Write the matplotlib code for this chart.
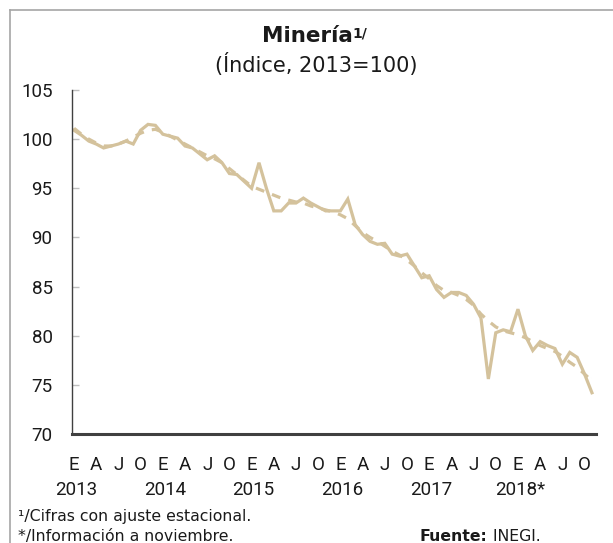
import matplotlib.pyplot as plt
from matplotlib.lines import Line2D

plt.rcParams["font.family"] = ["Roboto", "DejaVu Sans"]

# Indice de mineria, enero 2013 - noviembre 2018 (serie desestacionalizada y tendencia)
serie = [100.9, 100.4, 99.8, 99.5, 99.1, 99.3, 99.5, 99.8, 99.5, 100.9, 101.5, 101.4,
         100.5, 100.3, 100.1, 99.3, 99.1, 98.5, 97.9, 98.3, 97.6, 96.5, 96.4, 95.7,
         95.0, 97.6, 95.0, 92.7, 92.7, 93.5, 93.5, 94.0, 93.5, 93.1, 92.7, 92.7,
         92.7, 93.9, 91.3, 90.3, 89.6, 89.3, 89.4, 88.3, 88.1, 88.3, 87.1, 85.9,
         86.1, 84.7, 83.9, 84.4, 84.4, 84.1, 83.2, 81.8, 75.6, 80.3, 80.6, 80.4,
         82.7, 80.0, 78.5, 79.4, 79.0, 78.7, 77.1, 78.3, 77.8, 76.1, 74.2]
tendencia = [101.1, 100.5, 100.0, 99.6, 99.3, 99.3, 99.5, 99.8, 100.2, 100.6, 100.9, 101.0,
             100.7, 100.3, 99.9, 99.5, 99.1, 98.7, 98.3, 98.0, 97.6, 97.0, 96.4, 95.8,
             95.2, 94.9, 94.6, 94.3, 94.0, 93.8, 93.6, 93.5, 93.2, 93.0, 92.8, 92.6,
             92.3, 91.9, 91.2, 90.5, 90.0, 89.6, 89.1, 88.6, 88.2, 87.7, 87.1, 86.4,
             85.8, 85.1, 84.6, 84.4, 84.1, 83.7, 83.1, 82.2, 81.5, 80.9, 80.5, 80.3,
             80.1, 79.8, 79.4, 79.0, 78.7, 78.4, 77.9, 77.3, 76.8, 76.1, 75.4]
meses = list(range(len(serie)))
letras = ["E", "A", "J", "O"]
anios = ["2013", "2014", "2015", "2016", "2017", "2018*"]
yticks = [70, 75, 80, 85, 90, 95, 100, 105]

color = "#D4C29C"
gris = "#404040"
texto = "#1a1a1a"
ancha = "DejaVu Sans"  # fuente mas ancha para titulo y notas

fig = plt.figure(figsize=(6.13, 5.43), dpi=100)
ax = fig.add_axes([0.1175, 0.2007, 0.8548, 0.6336])

ax.plot(meses, serie, color=color, linewidth=2.3, solid_joinstyle="miter")
ax.plot(meses, tendencia, color=color, linewidth=2.3, dashes=(2.8, 2.6))

ax.set_ylim(70, 105)
ax.set_xlim(-0.27, 70.55)
ax.set_yticks(yticks)
ax.tick_params(axis="y", direction="in", length=5, width=1, color="#BFBFBF",
               labelsize=13.5, pad=14, labelcolor=texto)

# etiquetas de meses (cada trimestre) y de años
pos_letras = meses[::3]
ax.set_xticks(pos_letras)
ax.set_xticklabels([letras[i % 4] for i in range(len(pos_letras))])
ax.tick_params(axis="x", length=0, labelsize=13.5, pad=15.5, labelcolor=texto)
for i, a in enumerate(anios):
    ax.annotate(a, xy=(i * 12, 0), xycoords=("data", "axes fraction"),
                xytext=(1.5, -40), textcoords="offset points",
                ha="center", va="center", fontsize=13.5, color=texto)

for s in ["top", "right"]:
    ax.spines[s].set_visible(False)
ax.spines["left"].set_color(gris)
ax.spines["left"].set_linewidth(1.0)
ax.spines["bottom"].set_color(gris)
ax.spines["bottom"].set_linewidth(2.2)

# titulo
t = fig.text(0.5008, 0.9346, "Minería", ha="center", va="center", family=ancha,
             fontsize=15.5, fontweight="bold", color=texto)
ax.annotate("1/", xy=(1, 1), xycoords=t, xytext=(0, -1), textcoords="offset points",
            ha="left", va="top", fontsize=10, fontweight="bold", family=ancha, color=texto)
fig.text(0.5155, 0.881, "(Índice, 2013=100)", ha="center", va="center", family=ancha,
         fontsize=15, color=texto)

# notas al pie
fig.text(0.029, 0.0496, "¹/Cifras con ajuste estacional.", ha="left", va="center",
         family=ancha, fontsize=11.3, color=texto)
fig.text(0.029, 0.0115, "*/Información a noviembre.", ha="left", va="center",
         family=ancha, fontsize=11.3, color=texto)
f = fig.text(0.685, 0.0115, "Fuente:", ha="left", va="center", family=ancha,
             fontsize=11.3, fontweight="bold", color=texto)
ax.annotate(" INEGI.", xy=(1, 0.5), xycoords=f, ha="left", va="center",
            family=ancha, fontsize=11.3, color=texto)

# marco del recuadro
fig.add_artist(Line2D([0.0163, 1.0], [0.9816, 0.9816], transform=fig.transFigure,
                      color="#A6A6A6", linewidth=1.2))
fig.add_artist(Line2D([0.0163, 0.0163], [0.0, 0.9816], transform=fig.transFigure,
                      color="#A6A6A6", linewidth=1.2))

fig.savefig("out.png", dpi=100)
